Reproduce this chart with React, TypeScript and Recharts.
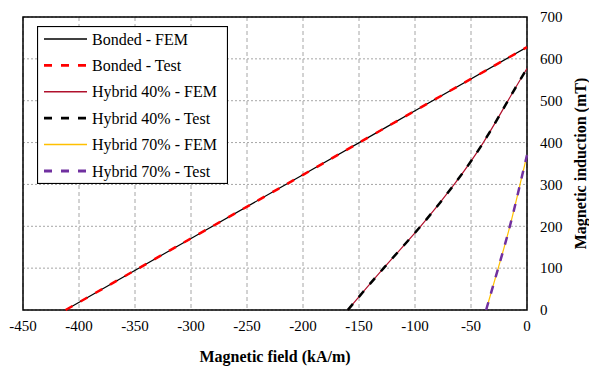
import React from 'react';
import {
  LineChart,
  Line,
  XAxis,
  YAxis,
  CartesianGrid,
  ReferenceArea,
  Legend,
  Label
} from 'recharts';

const xTicks = [-450, -400, -350, -300, -250, -200, -150, -100, -50, 0];
const yTicks = [0, 100, 200, 300, 400, 500, 600, 700];

// magnetic field (kA/m) and induction (mT)
const bondedH = [-412, -300, -200, -100, 0];
const bondedFemB = [0, 171, 323, 476, 628];
const bondedTestB = [0, 171, 323, 476, 628];

const hybrid40H = [-160, -128, -95, -65, -39, -17, 0];
const hybrid40FemB = [0, 100, 200, 300, 400, 500, 577];
const hybrid40TestB = [0, 100, 200, 300, 400, 500, 577];

const hybrid70H = [-36.5, -25.7, -15.3, -6.2, 0];
const hybrid70FemB = [0, 100, 200, 300, 370];
const hybrid70TestB = [0, 100, 200, 300, 370];

const toPoints = (h: number[], b: number[]) => h.map((x, i) => ({ h: x, b: b[i] }));

const FONT = 'Liberation Serif, "Times New Roman", Tinos, "DejaVu Serif", serif';

const series = [
  { name: 'Bonded - FEM', data: toPoints(bondedH, bondedFemB), color: '#000000', dash: undefined, width: 1.2 },
  { name: 'Bonded - Test', data: toPoints(bondedH, bondedTestB), color: '#ff0000', dash: '8 9', width: 2.5 },
  { name: 'Hybrid 40% - FEM', data: toPoints(hybrid40H, hybrid40FemB), color: '#b0102c', dash: undefined, width: 1.2 },
  { name: 'Hybrid 40% - Test', data: toPoints(hybrid40H, hybrid40TestB), color: '#000000', dash: '8 9', width: 2.5 },
  { name: 'Hybrid 70% - FEM', data: toPoints(hybrid70H, hybrid70FemB), color: '#ffc000', dash: undefined, width: 1.2 },
  { name: 'Hybrid 70% - Test', data: toPoints(hybrid70H, hybrid70TestB), color: '#7030a0', dash: '8 9', width: 2.5 }
];

const LegendBox = () => (
  <svg width={191} height={158} style={{ display: 'block' }}>
    <rect x={0.5} y={0.5} width={190} height={157} fill="#fff" stroke="#000" strokeWidth={1.2} />
    {series.map((s, i) => {
      const y = 13 + i * 26.4;
      return (
        <g key={s.name}>
          <line x1={7} x2={50} y1={y} y2={y} stroke={s.color} strokeWidth={s.width + 0.3} strokeDasharray={s.dash} />
          <text x={55} y={y} dominantBaseline="central" style={{ fontFamily: FONT, fontSize: 16 }} fill="#000">
            {s.name}
          </text>
        </g>
      );
    })}
  </svg>
);

const XTitle = ({ viewBox }: any) => {
  const cx = viewBox.x + viewBox.width / 2;
  const cy = viewBox.y + 46;
  return (
    <text x={cx} y={cy} textAnchor="middle" dominantBaseline="central" style={{ fontFamily: FONT, fontSize: 16, fontWeight: 'bold' }} fill="#000">
      Magnetic field (kA/m)
    </text>
  );
};

const YTitle = ({ viewBox }: any) => {
  const cx = viewBox.x + viewBox.width - 9;
  const cy = viewBox.y + viewBox.height / 2;
  return (
    <text x={cx} y={cy} transform={`rotate(-90 ${cx} ${cy})`} textAnchor="middle" dominantBaseline="central" style={{ fontFamily: FONT, fontSize: 16, fontWeight: 'bold' }} fill="#000">
      Magnetic induction (mT)
    </text>
  );
};

const App: React.FC = () => {
  const tickStyle = { fontSize: 15, fill: '#000', style: { fontFamily: FONT } };
  return (
    <div style={{ position: 'absolute', left: 0, top: 0, width: 589, height: 366, background: '#fff', fontFamily: FONT }}>
      <LineChart width={589} height={366} margin={{ top: 17, right: 0, left: 23, bottom: 0 }}>
        <CartesianGrid horizontal={false} stroke="#a6a6a6" strokeDasharray="4 3" />
        <CartesianGrid vertical={false} stroke="#a6a6a6" strokeDasharray="2 2" />
        <XAxis
          dataKey="h"
          type="number"
          domain={[-450, 0]}
          ticks={xTicks}
          allowDuplicatedCategory={false}
          axisLine={false}
          tickLine={false}
          tickSize={0}
          tickMargin={10}
          height={56}
          tick={tickStyle}
          interval={0}
        >
          <Label content={XTitle} />
        </XAxis>
        <YAxis
          dataKey="b"
          orientation="right"
          type="number"
          domain={[0, 700]}
          ticks={yTicks}
          axisLine={false}
          tickLine={false}
          tickSize={0}
          tickMargin={13}
          width={62}
          tick={tickStyle}
          interval={0}
        >
          <Label content={YTitle} />
        </YAxis>
        {series.map((s) => (
          <Line
            key={s.name}
            name={s.name}
            data={s.data}
            dataKey="b"
            type="natural"
            stroke={s.color}
            strokeWidth={s.width}
            strokeDasharray={s.dash}
            dot={false}
            activeDot={false}
            isAnimationActive={false}
          />
        ))}
        <ReferenceArea x1={-450} x2={0} y1={0} y2={700} fill="none" stroke="#000" strokeWidth={1.5} />
        <Legend
          layout="vertical"
          align="center"
          verticalAlign="middle"
          content={LegendBox}
          wrapperStyle={{ left: 37, top: 26, width: 191, height: 158 }}
        />
      </LineChart>
    </div>
  );
};

export default App;
